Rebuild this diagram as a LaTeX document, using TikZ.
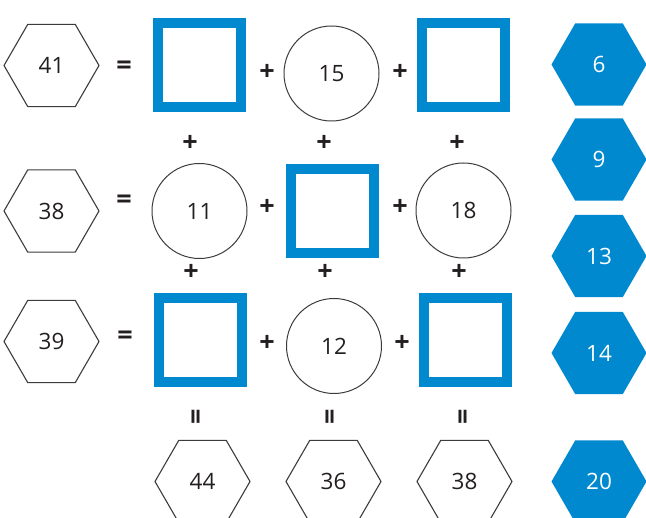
\documentclass[tikz,border=0pt]{standalone}
\usepackage{fontspec}
\setmainfont{Open Sans}
\usetikzlibrary{shapes.geometric}
\definecolor{qblue}{RGB}{0,137,207}
\definecolor{qline}{RGB}{60,60,60}
\definecolor{qtext}{RGB}{35,31,32}
\begin{document}
\begin{tikzpicture}[x=1pt,y=-1pt,
  num/.style={font=\fontsize{22.5}{24}\selectfont},
  hexw/.style={regular polygon, regular polygon sides=6, minimum size=95pt,
    inner sep=0pt, draw=qline, line width=1.1pt, num, text=qtext},
  hexb/.style={hexw, draw=none, fill=qblue, text=white},
  sq/.style={draw=qblue, line width=10pt, minimum width=83pt,
    minimum height=84pt, inner sep=0pt},
  circ/.style={circle, draw=qline, line width=1pt, minimum size=95pt,
    inner sep=0pt, num, text=qtext},
  op/.style={font=\fontsize{27}{28}\selectfont\bfseries, inner sep=0pt, text=qtext},
  vop/.style={op, rotate=90}]
\clip (0,0) rectangle (646,518);
\fill[white] (0,0) rectangle (646,518);
% left hexagons
\node[hexw] (h1) at (51.5,65.5) {41};
\node[hexw] (h2) at (51.5,211) {38};
\node[hexw] (h3) at (51.5,341.5) {39};
% equals
\node[op] (e1) at (124,68) {=};
\node[op] (e2) at (124,202) {=};
\node[op] (e3) at (125,338) {=};
% row 1
\node[sq] (s11) at (199.5,65) {};
\node[op] (p11) at (267,72) {+};
\node[circ] (c12) at (331.5,73.5) {15};
\node[op] (p12) at (400,72) {+};
\node[sq] (s13) at (463,65) {};
% vertical plus 1-2
\node[op] (v11) at (190,143) {+};
\node[op] (v12) at (324,143) {+};
\node[op] (v13) at (457,143) {+};
% row 2
\node[circ] (c21) at (199.5,211) {11};
\node[op] (p21) at (267,207) {+};
\node[sq] (s22) at (332,211) {};
\node[op] (p22) at (400,207) {+};
\node[circ] (c23) at (463.5,210.5) {18};
% vertical plus 2-3
\node[op] (v21) at (191,272) {+};
\node[op] (v22) at (325,272) {+};
\node[op] (v23) at (459,272) {+};
% row 3
\node[sq] (s31) at (200,340) {};
\node[op] (p31) at (267,343) {+};
\node[circ] (c32) at (334,346) {12};
\node[op] (p32) at (402,343) {+};
\node[sq] (s33) at (465,340) {};
% rotated equals
\node[vop] (q1) at (199,417) {=};
\node[vop] (q2) at (333,417) {=};
\node[vop] (q3) at (466,417) {=};
% bottom hexagons
\node[hexw] (b1) at (202.5,481.5) {44};
\node[hexw] (b2) at (333.5,481.5) {36};
\node[hexw] (b3) at (464.5,481.5) {38};
% blue hexagons
\node[hexb] (r1) at (599,64.5) {6};
\node[hexb] (r2) at (599,159.5) {9};
\node[hexb] (r3) at (599,256) {13};
\node[hexb] (r4) at (599,353) {14};
\node[hexb] (r5) at (599,481.5) {20};
\end{tikzpicture}
\end{document}
